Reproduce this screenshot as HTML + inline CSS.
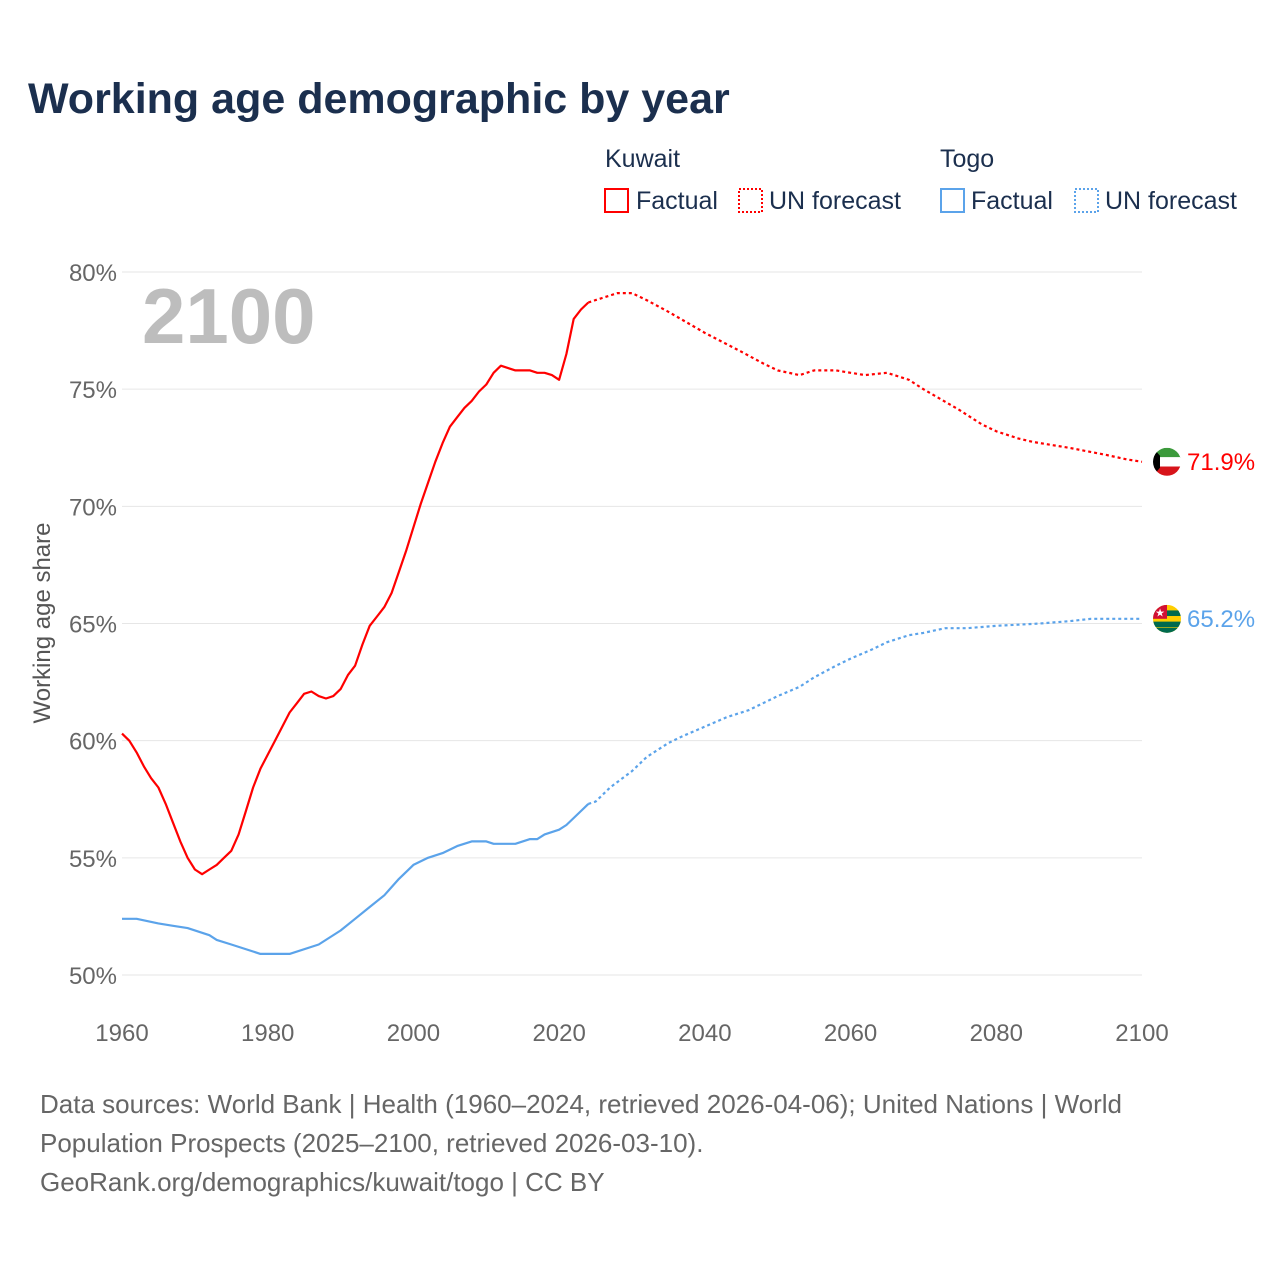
<!DOCTYPE html>
<html><head><meta charset="utf-8"><style>
body{margin:0;background:#fff;font-family:"Liberation Sans",sans-serif;}
svg text{font-family:"Liberation Sans",sans-serif;}
</style></head><body>
<svg id="chart" width="1280" height="1280" viewBox="0 0 1280 1280">
<text x="28" y="113" font-size="43" font-weight="bold" fill="#1b2f4e">Working age demographic by year</text>
<g font-size="25" fill="#1b2f4e">
<text x="605" y="167">Kuwait</text>
<rect x="605" y="189" width="23" height="23" fill="none" stroke="#f00" stroke-width="2"/>
<text x="636" y="209">Factual</text>
<rect x="739" y="189" width="23" height="23" fill="none" stroke="#f00" stroke-width="2" stroke-dasharray="2,2"/>
<text x="769" y="209">UN forecast</text>
<text x="940" y="167">Togo</text>
<rect x="941" y="189" width="23" height="23" fill="none" stroke="#5ba3ea" stroke-width="2"/>
<text x="971" y="209">Factual</text>
<rect x="1075" y="189" width="23" height="23" fill="none" stroke="#5ba3ea" stroke-width="2" stroke-dasharray="2,2"/>
<text x="1105" y="209">UN forecast</text>
</g>
<text x="142" y="343" font-size="78" font-weight="bold" fill="#bdbdbd">2100</text>
<text transform="translate(50,623) rotate(-90)" text-anchor="middle" font-size="24" fill="#555">Working age share</text>
<g id="grid"></g><g id="series"></g><g id="ends"></g>
<g font-size="26" fill="#666">
<text x="40" y="1113">Data sources: World Bank | Health (1960–2024, retrieved 2026-04-06); United Nations | World</text>
<text x="40" y="1152">Population Prospects (2025–2100, retrieved 2026-03-10).</text>
<text x="40" y="1191">GeoRank.org/demographics/kuwait/togo | CC BY</text>
</g>
</svg>
<script>
const yTicks=[50,55,60,65,70,75,80];
const xTicks=[1960,1980,2000,2020,2040,2060,2080,2100];
const kwYears=[1960,1961,1962,1963,1964,1965,1966,1967,1968,1969,1970,1971,1972,1973,1974,1975,1976,1977,1978,1979,1980,1981,1982,1983,1984,1985,1986,1987,1988,1989,1990,1991,1992,1993,1994,1995,1996,1997,1998,1999,2000,2001,2002,2003,2004,2005,2006,2007,2008,2009,2010,2011,2012,2013,2014,2015,2016,2017,2018,2019,2020,2021,2022,2023,2024];
const kwValues=[60.3,60.0,59.5,58.9,58.4,58.0,57.3,56.5,55.7,55.0,54.5,54.3,54.5,54.7,55.0,55.3,56.0,57.0,58.0,58.8,59.4,60.0,60.6,61.2,61.6,62.0,62.1,61.9,61.8,61.9,62.2,62.8,63.2,64.1,64.9,65.3,65.7,66.3,67.2,68.1,69.1,70.1,71.0,71.9,72.7,73.4,73.8,74.2,74.5,74.9,75.2,75.7,76.0,75.9,75.8,75.8,75.8,75.7,75.7,75.6,75.4,76.5,78.0,78.4,78.7];
const kwFcYears=[2024,2025,2028,2030,2032,2035,2040,2045,2048,2050,2053,2055,2058,2060,2062,2065,2068,2070,2075,2078,2080,2083,2085,2090,2095,2098,2100];
const kwFcValues=[78.7,78.8,79.1,79.1,78.8,78.3,77.4,76.6,76.1,75.8,75.6,75.8,75.8,75.7,75.6,75.7,75.4,75.0,74.1,73.5,73.2,72.9,72.75,72.5,72.2,72.0,71.9];
const tgYears=[1960,1962,1965,1967,1969,1972,1973,1975,1979,1983,1987,1990,1992,1994,1996,1998,2000,2002,2004,2006,2008,2010,2011,2014,2016,2017,2018,2020,2021,2023,2024];
const tgValues=[52.4,52.4,52.2,52.1,52.0,51.7,51.5,51.3,50.9,50.9,51.3,51.9,52.4,52.9,53.4,54.1,54.7,55.0,55.2,55.5,55.7,55.7,55.6,55.6,55.8,55.8,56.0,56.2,56.4,57.0,57.3];
const tgFcYears=[2024,2025,2027,2030,2032,2035,2037,2040,2043,2046,2050,2053,2055,2058,2060,2063,2065,2068,2070,2073,2076,2080,2083,2086,2090,2093,2100];
const tgFcValues=[57.3,57.4,58.0,58.7,59.3,59.9,60.2,60.6,61.0,61.3,61.9,62.3,62.7,63.2,63.5,63.9,64.2,64.5,64.6,64.8,64.8,64.9,64.95,65.0,65.1,65.2,65.2];
const NS='http://www.w3.org/2000/svg';
const X=y=>122+(y-1960)*(1020/140);
const Y=v=>975-(v-50)*(703/30);
function mk(t,a,p){const e=document.createElementNS(NS,t);for(const k in a)e.setAttribute(k,a[k]);p.appendChild(e);return e;}
const grid=document.getElementById('grid');
yTicks.forEach(t=>{
 const l=mk('line',{x1:122,x2:1142,y1:Y(t),y2:Y(t),stroke:'#e6e6e6','stroke-width':1},grid);
 
 
 const tx=mk('text',{x:117,y:Y(t)+9,'text-anchor':'end','font-size':24,fill:'#666'},grid);
 tx.textContent=t+'%';
 
 
});
xTicks.forEach(t=>{
 const tx=mk('text',{x:X(t),y:1041,'text-anchor':'middle','font-size':24,fill:'#666'},grid);
 tx.textContent=t;
 
 
});
const ser=document.getElementById('series');
function line(xs,vs,col,dash,name){
 const d=xs.map((x,i)=>(i?'L':'M')+X(x).toFixed(1)+','+Y(vs[i]).toFixed(1)).join('');
 const p=mk('path',{d:d,fill:'none',stroke:col,'stroke-width':2.2,'stroke-dasharray':dash||'none','stroke-linejoin':'round'},ser);
 
 
}
line(kwYears,kwValues,'#f00','','kuwait-factual-line');
line(kwFcYears,kwFcValues,'#f00','3,3','kuwait-forecast-line');
line(tgYears,tgValues,'#5ba3ea','','togo-factual-line');
line(tgFcYears,tgFcValues,'#5ba3ea','3,3','togo-forecast-line');
const ends=document.getElementById('ends');
const kv=kwFcValues[kwFcValues.length-1], tv=tgFcValues[tgFcValues.length-1];
const ky=Y(kv), ty=Y(tv);
ends.innerHTML=`
<defs><clipPath id="ck"><circle cx="1167" cy="${ky}" r="14"/></clipPath><clipPath id="ct"><circle cx="1167" cy="${ty}" r="14"/></clipPath></defs>
<g clip-path="url(#ck)">
<rect x="1153" y="${ky-14}" width="28" height="10" fill="#3c9a3c"/><rect x="1153" y="${ky-4.7}" width="28" height="9.4" fill="#fff"/><rect x="1153" y="${ky+4.7}" width="28" height="10" fill="#d7141a"/>
<polygon points="1153,${ky-14} 1160,${ky-6} 1160,${ky+6} 1153,${ky+14}" fill="#000"/></g>
<g clip-path="url(#ct)">
<rect x="1153" y="${ty-14}" width="28" height="28" fill="#ffce00"/>
<rect x="1153" y="${ty-8.4}" width="28" height="5.6" fill="#006a4e"/><rect x="1153" y="${ty+2.8}" width="28" height="5.6" fill="#006a4e"/><rect x="1153" y="${ty+9}" width="28" height="6" fill="#006a4e"/>
<rect x="1153" y="${ty-14}" width="14" height="14" fill="#d21034"/><text x="1160" y="${ty-2.5}" font-size="11" fill="#fff" text-anchor="middle">★</text></g>
<text x="1187" y="${ky+8}" font-size="24" fill="#f00">${kv.toFixed(1)}%</text>
<text x="1187" y="${ty+8}" font-size="24" fill="#5ba3ea">${tv.toFixed(1)}%</text>`;
</script>
</body></html>
